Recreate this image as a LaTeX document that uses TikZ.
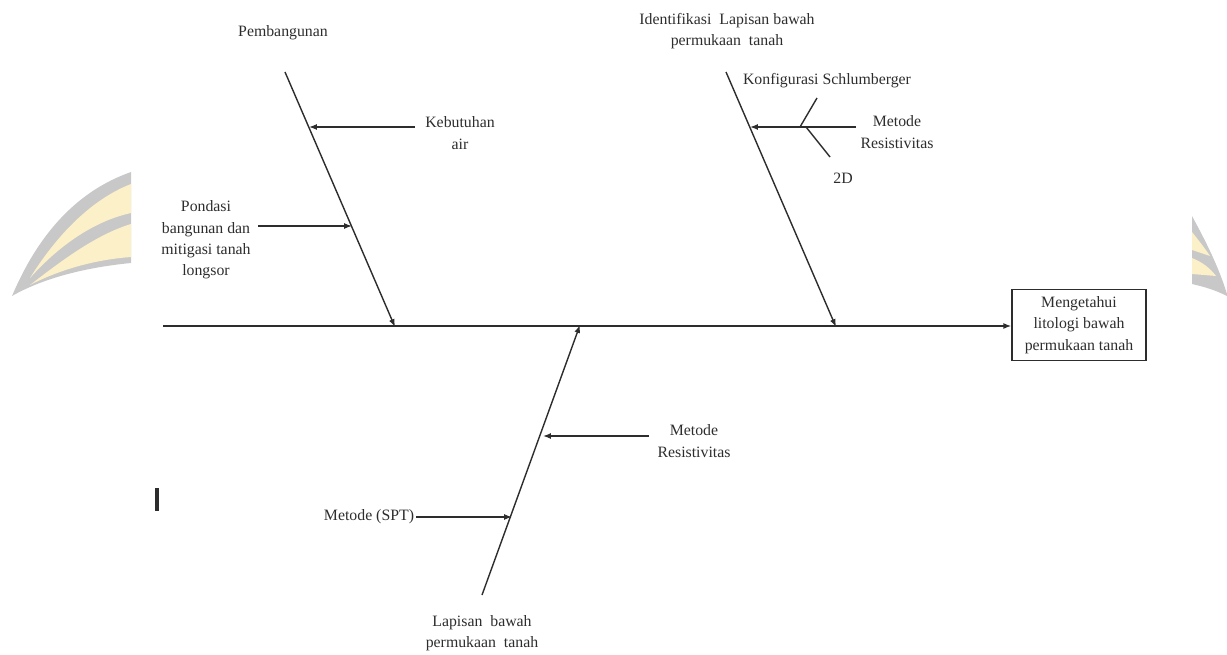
\documentclass[tikz,border=0pt]{standalone}
\usepackage{fontspec}
\setmainfont{Liberation Serif}
\usetikzlibrary{arrows.meta}
\definecolor{wmgray}{RGB}{200,200,200}
\definecolor{wmyellow}{RGB}{252,240,200}
\definecolor{ink}{RGB}{45,45,45}
\tikzset{
  lbl/.style={text=ink, font=\fontsize{9}{12.2}\selectfont, align=center, inner sep=1pt},
  bone/.style={draw=ink, line width=0.8pt},
  arr/.style={draw=ink, line width=0.8pt, -{Latex[length=4.5pt,width=3.4pt]}},
  goal/.style={draw=ink, line width=0.8pt, minimum width=2.68cm, minimum height=1.42cm, inner sep=0pt}
}
\begin{document}
\begin{tikzpicture}[x=0.02cm,y=-0.02cm]
\useasboundingbox (0,0) rectangle (1227,655);
% watermark fragments
\begin{scope}
\clip (0,150) rectangle (131,300);
\fill[wmgray] (12,296) .. controls (40,230) and (80,190) .. (131,172) -- (131,263) .. controls (80,268) and (40,280) .. (12,296) -- cycle;
\fill[wmyellow] (30,278) .. controls (60,230) and (95,198) .. (131,184) -- (131,213) .. controls (90,222) and (55,250) .. (30,278) -- cycle;
\fill[wmyellow] (30,285) .. controls (60,262) and (95,235) .. (131,224) -- (131,257) .. controls (90,260) and (55,272) .. (30,285) -- cycle;
\end{scope}
\begin{scope}
\clip (1192,200) rectangle (1227,300);
\fill[wmgray] (1192,216) .. controls (1205,240) and (1218,265) .. (1227,294) -- (1227,296) .. controls (1215,290) and (1205,287) .. (1192,284) -- cycle;
\fill[wmyellow] (1192,232) .. controls (1200,242) and (1206,250) .. (1210,256) -- (1192,250) -- cycle;
\fill[wmyellow] (1192,258) .. controls (1202,262) and (1210,268) .. (1216,276) -- (1192,274) -- cycle;
\end{scope}
% cursor bar
\draw[ink, line width=2pt] (157,488) -- (157,511);
% goal box and spine
\node[goal, lbl] (goal) at (1079,325) {Mengetahui\\litologi bawah\\permukaan tanah};
\coordinate (spine) at (163,326);
\draw[arr] (spine) -- (goal.west |- spine);
% top-left bone
\coordinate (b1s) at (285,72);
\coordinate (b1e) at (395,327);
\draw[arr] (b1s) -- (b1e);
\node[lbl] (pemb) at (283,33) {Pembangunan};
\node[lbl] (keb) at (460,133) {Kebutuhan\\air};
\coordinate (kebs) at (415,127);
\coordinate (kebt) at (309,127);
\draw[arr] (kebs) -- (kebt);
\node[lbl] (pond) at (206,240) {Pondasi\\bangunan dan\\mitigasi tanah\\longsor};
\coordinate (ponds) at (258,226);
\coordinate (pondt) at (352,226);
\draw[arr] (ponds) -- (pondt);
% top-right bone
\coordinate (b2s) at (726,72);
\coordinate (b2e) at (836,327);
\draw[arr] (b2s) -- (b2e);
\node[lbl] (ident) at (727,31) {Identifikasi\ \ Lapisan bawah\\permukaan\ \ tanah};
\node[lbl] (mr1) at (897,132) {Metode\\Resistivitas};
\coordinate (mr1s) at (856,127);
\coordinate (mr1t) at (750,127);
\draw[arr] (mr1s) -- (mr1t);
\node[lbl] (konf) at (827,81) {Konfigurasi Schlumberger};
\coordinate (konfs) at (817,98);
\coordinate (konft) at (800,127);
\draw[bone] (konfs) -- (konft);
\node[lbl] (dd) at (843,178) {2D};
\coordinate (dds) at (806,127);
\coordinate (ddt) at (830,157);
\draw[bone] (dds) -- (ddt);
% bottom bone
\coordinate (b3s) at (482,595);
\coordinate (b3e) at (580,325);
\draw[arr] (b3s) -- (b3e);
\node[lbl] (lap) at (482,633) {Lapisan\ \ bawah\\permukaan\ \ tanah};
\node[lbl] (mr2) at (694,441) {Metode\\Resistivitas};
\coordinate (mr2s) at (649,436);
\coordinate (mr2t) at (543,436);
\draw[arr] (mr2s) -- (mr2t);
\node[lbl] (spt) at (369,517) {Metode (SPT)};
\coordinate (sptt) at (512,517);
\draw[arr] (spt.east) -- (sptt);
\end{tikzpicture}
\end{document}
